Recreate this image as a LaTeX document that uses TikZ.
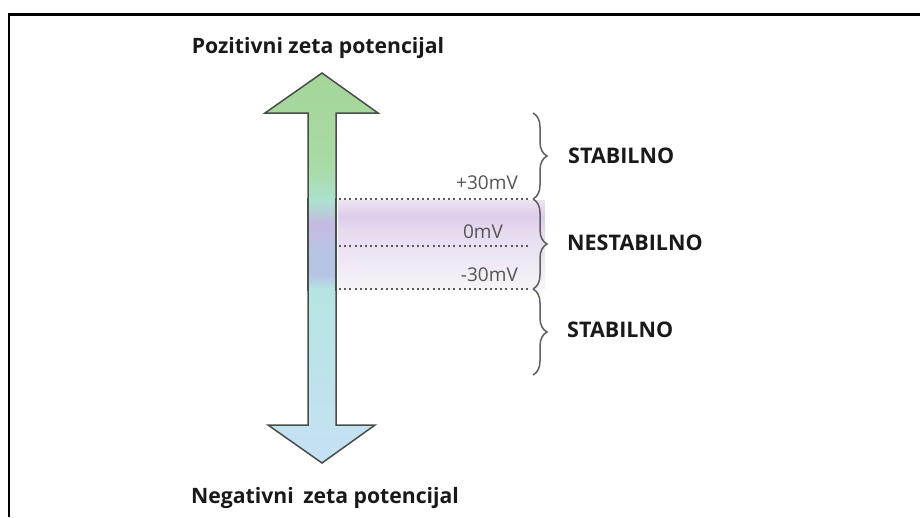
\documentclass[tikz,border=0pt]{standalone}
\usepackage{fontspec}
\setmainfont{Open Sans}
\usetikzlibrary{decorations.pathreplacing}
\definecolor{arrgreen}{RGB}{164,213,152}
\definecolor{arrgreenb}{RGB}{170,218,165}
\definecolor{arrmid}{RGB}{172,226,206}
\definecolor{arrcyan}{RGB}{182,228,226}
\definecolor{arrblue}{RGB}{198,225,245}
\definecolor{shpurple}{RGB}{198,186,226}
\definecolor{shblue}{RGB}{182,196,228}
\definecolor{bandtop}{RGB}{236,228,242}
\definecolor{bandlav}{RGB}{221,204,234}
\definecolor{bandmid}{RGB}{230,218,239}
\definecolor{bandlow}{RGB}{247,244,249}
\definecolor{dotgray}{RGB}{90,90,90}
\definecolor{brgray}{RGB}{95,95,95}
\definecolor{mvgray}{RGB}{85,85,85}
\definecolor{edgegray}{RGB}{72,78,72}
\pgfdeclareverticalshading{arrowshade}{100bp}{color(0bp)=(arrblue); color(25bp)=(arrblue); color(47bp)=(arrcyan); color(58.7bp)=(arrmid); color(63bp)=(arrgreenb); color(75bp)=(arrgreen); color(100bp)=(arrgreen)}
\pgfdeclareverticalshading{shaftband}{100bp}{color(0bp)=(arrcyan); color(25bp)=(arrcyan); color(33bp)=(shblue); color(45bp)=(shblue); color(62bp)=(shpurple); color(75bp)=(arrmid); color(100bp)=(arrmid)}
\pgfdeclareverticalshading{lavband}{100bp}{color(0bp)=(bandlow); color(25bp)=(bandlow); color(58bp)=(bandmid); color(66bp)=(bandlav); color(75bp)=(bandtop); color(100bp)=(bandtop)}
\tikzset{
  heading/.style={font=\bfseries\fontsize{21.2}{24}\selectfont, text=black!90, inner sep=0pt},
  zone/.style={font=\bfseries\fontsize{21.5}{24}\selectfont, text=black!90, inner sep=0pt, anchor=west},
  mvlabel/.style={font=\fontsize{19}{22}\selectfont, text=mvgray, inner sep=0pt},
  dotline/.style={dotgray, line width=2.4pt, dash pattern=on 2pt off 3.2pt},
  bracestyle/.style={brgray, line width=1.5pt, decorate, decoration={brace, amplitude=14pt}},
  frameline/.style={black, line width=2.2pt},
  arrowbody/.style={draw=edgegray, line width=1.5pt, line join=miter},
  shaftedge/.style={fill=edgegray}
}
\begin{document}
\begin{tikzpicture}[x=1pt,y=-1pt]
\useasboundingbox (0,0) rectangle (920,517);
\fill[white] (0,0) rectangle (920,517);
\draw[frameline] (9,517) -- (9,14.5) -- (920,14.5);

% double arrow
\path[shading=arrowshade, arrowbody]
  (322,73) -- (378,113) -- (336,113) -- (336,425) -- (375,425) -- (322,463) -- (268,425) -- (308,425) -- (308,113) -- (265,113) -- cycle;
\shade[shading=shaftband] (308.8,200) rectangle (335.2,289);

% unstable band
\shade[shading=lavband] (338,200) rectangle (545,289);

\path[shaftedge] (307.2,198) rectangle (308.8,291);
\path[shaftedge] (335.1,198) rectangle (337,291);

% nodes
\node[heading] (pos) at (318,48) {Pozitivni zeta potencijal};
\node[heading] (neg) at (325,498) {Negativni\hspace{0.45em}zeta potencijal};

\coordinate (p30s) at (339,199);
\coordinate (p30e) at (531,199);
\coordinate (z0s) at (339,246);
\coordinate (z0e) at (529,246);
\coordinate (m30s) at (339,289);
\coordinate (m30e) at (531,289);
\draw[dotline] (p30s) -- (p30e);
\draw[dotline] (z0s) -- (z0e);
\draw[dotline] (m30s) -- (m30e);

\node[mvlabel, anchor=east] (lp30) at (518,183) {+30mV};
\node[mvlabel] (l0) at (483,232) {0mV};
\node[mvlabel, anchor=east] (lm30) at (518,275) {-30mV};

\coordinate (b1t) at (533,113);
\coordinate (b1b) at (533,199);
\coordinate (b2b) at (533,289);
\coordinate (b3b) at (533,375);
\draw[bracestyle] (b1t) -- (b1b);
\draw[bracestyle] (b1b) -- (b2b);
\draw[bracestyle] (b2b) -- (b3b);

\node[zone] (s1) at (568,156) {STABILNO};
\node[zone] (ns) at (567,243) {NESTABILNO};
\node[zone] (s2) at (567,330) {STABILNO};
\end{tikzpicture}
\end{document}
